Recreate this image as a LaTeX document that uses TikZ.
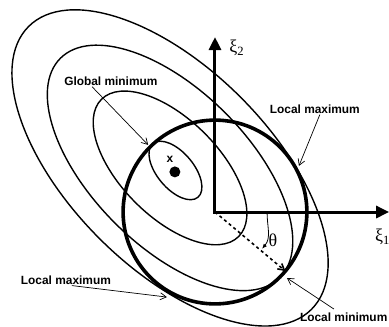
\documentclass[tikz,border=0pt]{standalone}
\usepackage{fontspec}
\setmainfont{Liberation Sans}
\newfontfamily\greekserif{Liberation Serif}
\usetikzlibrary{arrows.meta}

\begin{document}
\begin{tikzpicture}
    % Styles
    \tikzset{
      contour/.style={line width=1.4pt},
      constraint/.style={line width=3.6pt},
      axis/.style={line width=3pt, line join=miter,
        {Triangle[length=13pt,width=12pt]}-{Triangle[length=13pt,width=12pt]}},
      lbl/.style={font=\fontsize{11.9}{14}\selectfont\bfseries, inner sep=1pt},
      pointer/.style={line width=0.7pt, -{Straight Barb[length=6pt,width=7pt]}},
      greek/.style={font=\greekserif\fontsize{18}{20}\selectfont, inner sep=0pt}
    }
    \useasboundingbox (-7.557,-4.007) rectangle (6.116,7.452);

    % --- Contours of the objective ---
    \coordinate (c) at (-1.58,1.55);
    \foreach \a/\b in {7.03/3.51, 5.45/2.74, 3.41/1.72}
      \draw[contour, shift={(c)}, rotate=-45] (0,0) ellipse [x radius=\a, y radius=\b];
    \draw[contour, shift={(-1.39,1.46)}, rotate=-50] (0,0) ellipse [x radius=1.23, y radius=0.64];

    % --- Constraint circle ---
    \coordinate (O) at (0,0);
    \draw[constraint] (O) circle (3.23);

    % --- Axes ---
    \coordinate (xi2) at (0,6.15);
    \coordinate (xi1) at (6.12,0);
    \draw[axis] (xi2) -- (O) -- (xi1);
    \node[greek, anchor=west] (xi2lbl) at (0.5,5.76) {ξ\textsubscript{2}};
    \node[greek, anchor=west] (xi1lbl) at (5.62,-0.88) {ξ\textsubscript{1}};

    % --- Global minimum point ---
    \node[circle, fill, inner sep=0pt, minimum size=11pt] (xstar) at (-1.41,1.41) {};
    \node[lbl] (xlbl) at (-1.58,1.86) {x};

    % --- Angle theta ---
    \coordinate (rim) at (-40:3.23);
    \draw[dashed, line width=1.6pt, -{Straight Barb[length=6pt,width=7pt]}] (O) -- (rim);
    \coordinate (arcstart) at (1.83,0);
    \coordinate (arcend) at (-38:2.1);
    \draw[line width=0.8pt, -{Latex[length=5pt,width=4pt]}] (arcstart) to[out=-90, in=50] (arcend);
    \node[greek] (theta) at (2.04,-0.98) {θ};

    % --- Labels ---
    \node[lbl] (gmin) at (-3.66,4.6) {Global minimum};
    \coordinate (gminpt) at (-2.35,2.36);
    \draw[pointer] ([xshift=29pt]gmin.south west) -- (gminpt);

    \node[lbl] (lmaxa) at (3.51,3.62) {Local maximum};
    \coordinate (lmaxapt) at (2.95,1.62);
    \draw[pointer] ([xshift=5pt]lmaxa.south) -- (lmaxapt);

    \node[lbl] (lmaxb) at (-5.24,-2.39) {Local maximum};
    \coordinate (lmaxbpt) at (-1.69,-2.99);
    \draw[pointer] ([xshift=6pt]lmaxb.south) -- (lmaxbpt);

    \node[lbl, anchor=east] (lmin) at (6.1,-3.71) {Local minimum};
    \coordinate (lminpt) at (2.53,-2.32);
    \draw[pointer] ([xshift=35pt,yshift=3pt]lmin.north west) -- (lminpt);
\end{tikzpicture}
\end{document}
